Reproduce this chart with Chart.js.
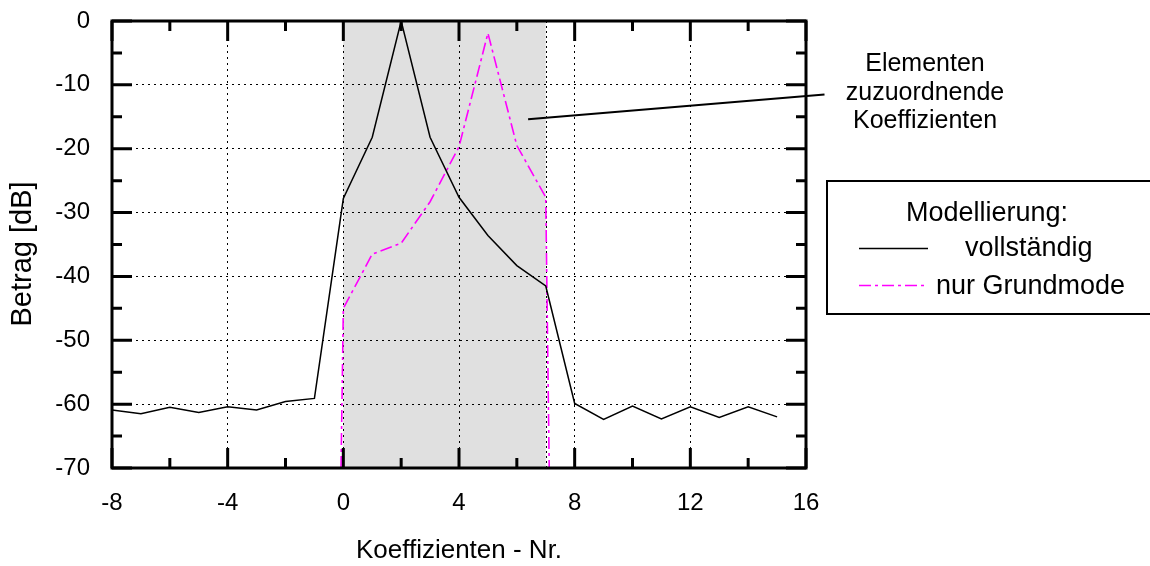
<!DOCTYPE html>
<html>
<head>
<meta charset="utf-8">
<title>Betrag der Koeffizienten</title>
<script src="https://cdn.jsdelivr.net/npm/chart.js"></script>
<style>
  html, body { margin: 0; padding: 0; background: #fff; }
  #wrap { width: 1150px; height: 566px; }
</style>
</head>
<body>
<div id="wrap"><canvas id="coefChart" width="1150" height="566"></canvas></div>
<script>
// Koeffizienten-Nr. und Betrag [dB]
const xVoll = [-8, -7, -6, -5, -4, -3, -2, -1, 0, 1, 2, 3, 4, 5, 6, 7, 8, 9, 10, 11, 12, 13, 14, 15];
const yVoll = [-60.9, -61.5, -60.5, -61.3, -60.4, -60.9, -59.6, -59.1, -27.8, -18.2, 0, -18.2, -27.6, -33.6, -38.3, -41.5, -59.9, -62.4, -60.3, -62.3, -60.4, -62.1, -60.4, -62.0];

const xGrund = [-0.08, 0, 1, 2, 3, 4, 5, 6, 7, 7.12];
const yGrund = [-70, -45, -36.5, -34.8, -28.3, -19.7, -1.9, -19.5, -27.6, -70];

const xTicks = [-8, -4, 0, 4, 8, 12, 16];
const yTicks = [0, -10, -20, -30, -40, -50, -60, -70];
const shadeRange = [0, 7];   // Elementen zuzuordnende Koeffizienten

const FONT = "'Liberation Sans', Arial, sans-serif";

function pairs(xs, ys) {
  return xs.map((x, i) => ({ x: x, y: ys[i] }));
}

// grey band, drawn before the grid so the dotted lines stay visible
const shadePlugin = {
  id: 'shade',
  beforeDraw(chart) {
    const { ctx, chartArea, scales } = chart;
    const x0 = scales.x.getPixelForValue(shadeRange[0]);
    const x1 = scales.x.getPixelForValue(shadeRange[1]);
    ctx.save();
    ctx.fillStyle = '#e0e0e0';
    ctx.fillRect(x0, chartArea.top, x1 - x0, chartArea.bottom - chartArea.top);
    ctx.strokeStyle = '#000';
    ctx.lineWidth = 1;
    ctx.setLineDash([2, 3]);
    ctx.beginPath();
    ctx.moveTo(Math.round(x1) + 0.5, chartArea.top);
    ctx.lineTo(Math.round(x1) + 0.5, chartArea.bottom);
    ctx.stroke();
    ctx.restore();
  }
};

// frame, inward ticks, y title, annotation and the boxed legend
const framePlugin = {
  id: 'frame',
  afterDraw(chart) {
    const { ctx, chartArea: a, scales } = chart;
    const sx = scales.x, sy = scales.y;
    ctx.save();
    ctx.strokeStyle = '#000';
    ctx.lineWidth = 3;
    ctx.strokeRect(a.left, a.top, a.right - a.left, a.bottom - a.top);

    ctx.beginPath();
    for (let v = -8; v <= 16; v += 2) {
      const px = sx.getPixelForValue(v);
      const len = (v % 4 === 0) ? 20 : 10;
      ctx.moveTo(px, a.bottom); ctx.lineTo(px, a.bottom - len);
      ctx.moveTo(px, a.top); ctx.lineTo(px, a.top + len);
    }
    for (let v = -70; v <= 0; v += 5) {
      const py = sy.getPixelForValue(v);
      const len = (v % 10 === 0) ? 20 : 10;
      ctx.moveTo(a.left, py); ctx.lineTo(a.left + len, py);
      ctx.moveTo(a.right, py); ctx.lineTo(a.right - len, py);
    }
    ctx.stroke();
    ctx.restore();

    ctx.save();
    ctx.fillStyle = '#000';
    ctx.textAlign = 'center';
    ctx.textBaseline = 'middle';

    // y-Achsentitel
    ctx.save();
    ctx.translate(23, 254);
    ctx.rotate(-Math.PI / 2);
    ctx.font = '29px ' + FONT;
    ctx.fillText('Betrag [dB]', 0, 0);
    ctx.restore();

    // Hinweislinie
    ctx.beginPath();
    ctx.lineWidth = 2;
    ctx.strokeStyle = '#000';
    ctx.moveTo(sx.getPixelForValue(16.64), sy.getPixelForValue(-11.5));
    ctx.lineTo(sx.getPixelForValue(6.39), sy.getPixelForValue(-15.4));
    ctx.stroke();

    ctx.font = '25px ' + FONT;
    ctx.fillText('Elementen', 925, 64);
    ctx.fillText('zuzuordnende', 925, 93);
    ctx.fillText('Koeffizienten', 925, 121);

    // Legende
    ctx.font = '27px ' + FONT;
    ctx.lineWidth = 2;
    ctx.strokeRect(827, 181, 340, 133);
    ctx.fillText('Modellierung:', 987, 214);
    ctx.textAlign = 'left';
    ctx.fillText('vollständig', 965, 249);
    ctx.fillText('nur Grundmode', 936, 287);

    ctx.lineWidth = 1.5;
    ctx.beginPath();
    ctx.moveTo(859, 248.5); ctx.lineTo(928, 248.5);
    ctx.stroke();
    ctx.strokeStyle = '#ff00ff';
    ctx.setLineDash([12, 4, 3, 4]);
    ctx.beginPath();
    ctx.moveTo(859, 285.5); ctx.lineTo(928, 285.5);
    ctx.stroke();
    ctx.restore();
  }
};

const ctx = document.getElementById('coefChart').getContext('2d');
new Chart(ctx, {
  type: 'scatter',
  data: {
    datasets: [
      {
        label: 'vollständig',
        data: pairs(xVoll, yVoll),
        showLine: true,
        borderColor: '#000',
        borderWidth: 1.5,
        pointRadius: 0,
        tension: 0
      },
      {
        label: 'nur Grundmode',
        data: pairs(xGrund, yGrund),
        showLine: true,
        borderColor: '#ff00ff',
        borderWidth: 1.6,
        borderDash: [12, 4, 3, 4],
        pointRadius: 0,
        tension: 0
      }
    ]
  },
  options: {
    responsive: false,
    animation: false,
    layout: { padding: { left: 0, top: 21, right: 344, bottom: 0 } },
    plugins: {
      legend: { display: false },
      tooltip: { enabled: false }
    },
    scales: {
      x: {
        type: 'linear',
        min: -8,
        max: 16,
        afterBuildTicks(scale) { scale.ticks = xTicks.map(v => ({ value: v })); },
        afterFit(scale) {
          scale.height = 98;
          scale.paddingLeft = 0;
          scale.paddingRight = 0;
        },
        ticks: {
          color: '#000',
          font: { family: FONT, size: 24 },
          padding: 21,
          maxRotation: 0
        },
        grid: { color: '#000', lineWidth: 1, drawTicks: false },
        border: { display: false, dash: [2, 4] },
        title: {
          display: true,
          text: 'Koeffizienten - Nr.',
          color: '#000',
          font: { family: FONT, size: 26 },
          padding: { top: 0, bottom: 0 }
        }
      },
      y: {
        type: 'linear',
        min: -70,
        max: 0,
        afterBuildTicks(scale) { scale.ticks = yTicks.map(v => ({ value: v })); },
        afterFit(scale) {
          scale.width = 112;
          scale.paddingTop = 0;
          scale.paddingBottom = 0;
        },
        ticks: {
          color: '#000',
          font: { family: FONT, size: 24 },
          padding: 22
        },
        grid: { color: '#000', lineWidth: 1, drawTicks: false },
        border: { display: false, dash: [2, 4] }
      }
    }
  },
  plugins: [shadePlugin, framePlugin]
});
</script>
</body>
</html>
